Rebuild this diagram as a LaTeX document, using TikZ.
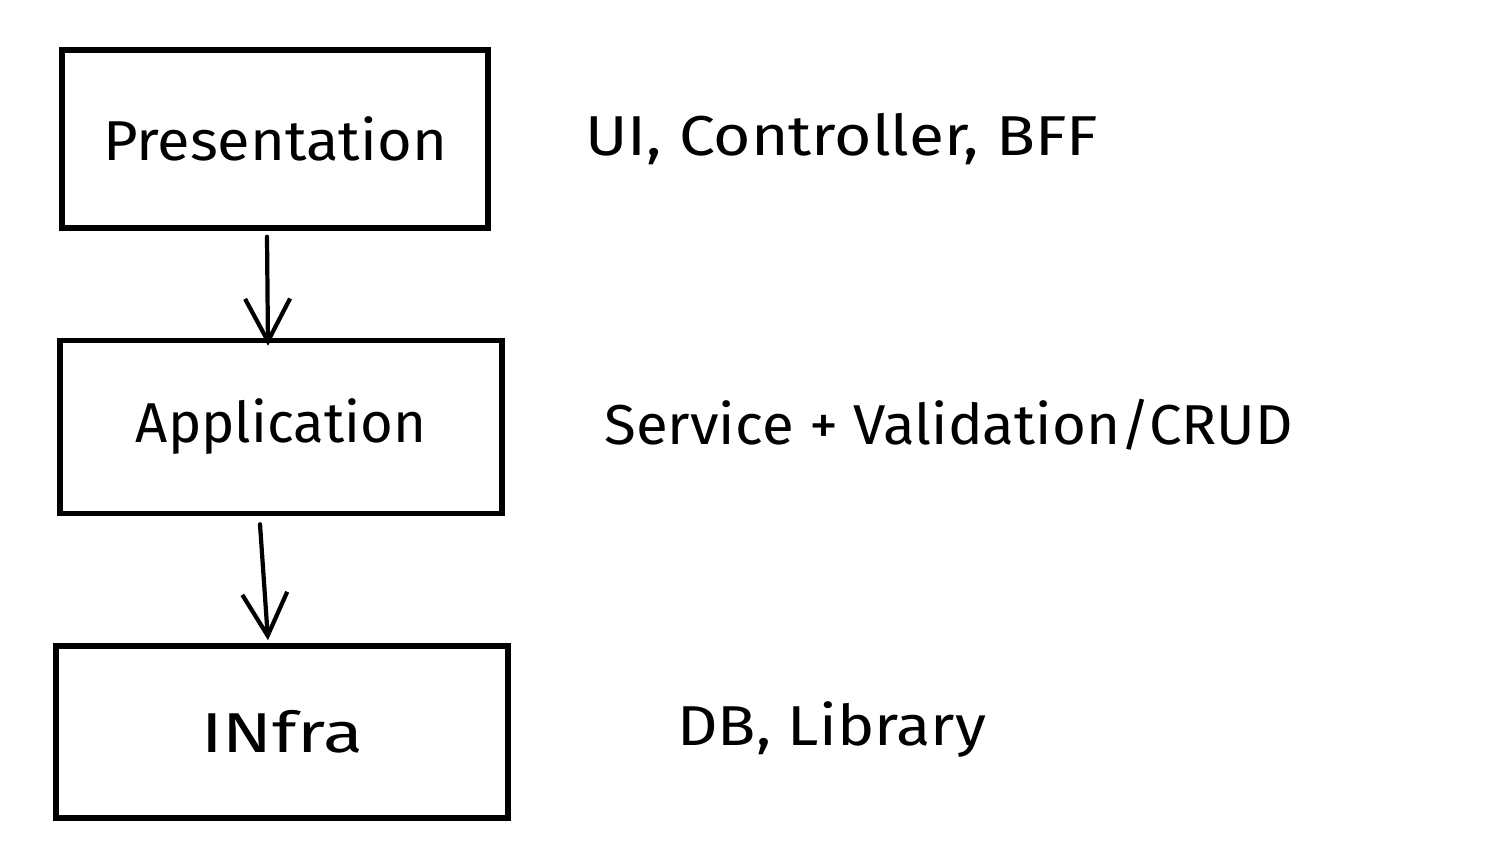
\documentclass[tikz,border=0pt]{standalone}
\usepackage{fontspec}
\setmainfont{Fira Sans}
\usetikzlibrary{arrows.meta}
\begin{document}
\begin{tikzpicture}[x=0.02cm,y=-0.02cm,
  layerbox/.style={draw=black, line width=3.2pt, fill=white, inner sep=0pt, font=\fontsize{32}{38}\selectfont},
  sidetext/.style={anchor=west, inner sep=0pt, font=\fontsize{32}{38}\selectfont},
  arr/.style={line width=2.4pt, line cap=round, -{Straight Barb[length=0.85cm, width=0.9cm, line width=2.4pt]}}]
\useasboundingbox[fill=white] (0,0) rectangle (1496,858);
\node[layerbox, minimum width=8.52cm, minimum height=3.56cm] (pres) at (275,139) {\scalebox{1.06}[1]{Presentation}};
\node[layerbox, minimum width=8.84cm, minimum height=3.46cm] (app) at (281,427) {Application};
\node[layerbox, minimum width=9.04cm, minimum height=3.44cm] (infra) at (282,732) {\scalebox{1.3}[1]{INfra}};
\node[sidetext] (t1) at (585,139) {\scalebox{1.14}[1]{UI, Controller, BFF}};
\node[sidetext] (t2) at (604,425) {\scalebox{1.035}[1]{Service + Validation/CRUD}};
\node[sidetext] (t3) at (677,730) {\scalebox{1.12}[1]{DB, Library}};
\draw[arr] ([xshift=-0.16cm,yshift=-0.12cm]pres.south) -- ([xshift=-0.26cm,yshift=-0.16cm]app.north);
\draw[arr] ([xshift=-0.42cm,yshift=-0.16cm]app.south) -- ([xshift=-0.28cm,yshift=0.06cm]infra.north);
\end{tikzpicture}
\end{document}
